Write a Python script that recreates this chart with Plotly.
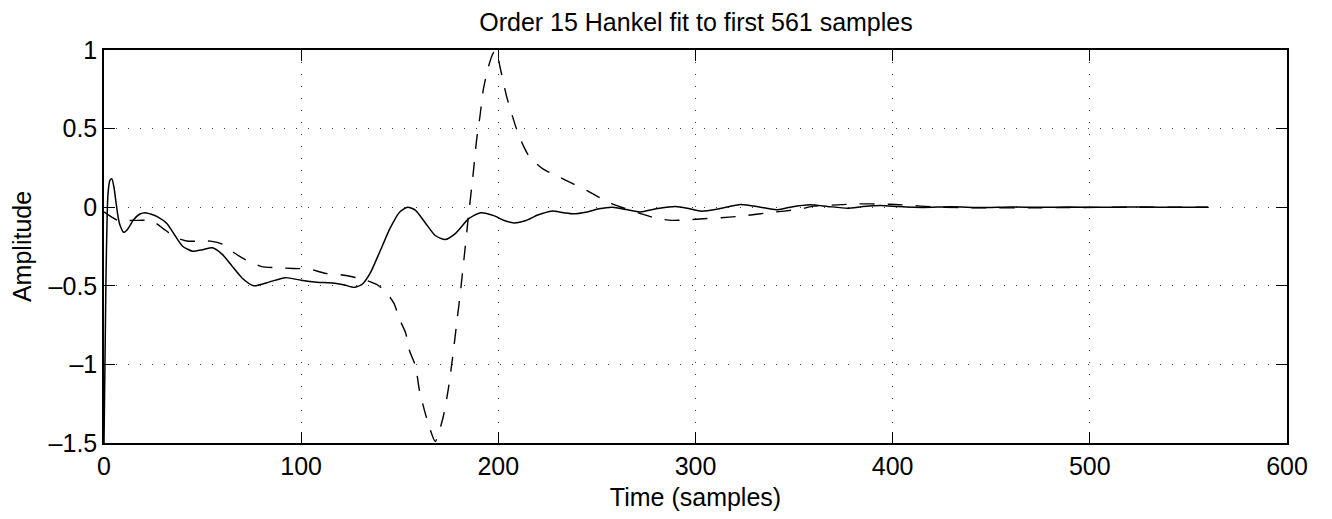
import plotly.graph_objects as go

# ---- data ----
solid_t = [0, 1, 2, 3, 4, 5, 6, 7, 8, 10, 12, 15, 18, 21, 24, 27, 32, 36, 40, 45, 50, 55,
           60, 65, 70, 76, 84, 92, 100, 108, 116, 122, 127, 131, 135, 140, 145, 150, 154,
           158, 163, 168, 173, 178, 185, 191, 198, 203, 208, 214, 220, 227, 233, 238, 245,
           251, 258, 265, 272, 280, 290, 297, 303, 312, 323, 333, 341, 348, 358, 367, 377,
           385, 394, 403, 415, 430, 445, 460, 475, 490, 505, 520, 535, 550, 560]
solid_v = [-1.5, -0.45, 0.08, 0.17, 0.18, 0.13, 0.04, -0.05, -0.11, -0.16, -0.14, -0.08,
           -0.045, -0.035, -0.045, -0.06, -0.105, -0.18, -0.25, -0.28, -0.27, -0.258,
           -0.30, -0.375, -0.45, -0.50, -0.475, -0.448, -0.465, -0.477, -0.482, -0.495,
           -0.51, -0.49, -0.42, -0.28, -0.136, -0.03, 0.0, -0.02, -0.10, -0.18, -0.206,
           -0.17, -0.073, -0.035, -0.055, -0.085, -0.10, -0.085, -0.05, -0.025, -0.035,
           -0.042, -0.03, -0.01, 0.0, -0.015, -0.03, -0.01, 0.005, -0.01, -0.025, -0.01,
           0.017, 0.0, -0.016, 0.0, 0.015, 0.005, -0.006, 0.004, 0.011, 0.004, -0.002,
           0.003, -0.002, 0.002, -0.001, 0.001, -0.001, 0.001, 0.0, 0.0, 0.0]

dashed_t = [0, 7, 15, 22, 26, 30, 36, 42, 48, 54, 60, 66, 72, 80, 88, 96, 104, 112, 120,
            128, 133, 138, 142, 147, 150, 153, 155, 158, 160, 164, 168, 172, 174.5, 176.8,
            178.8, 180.8, 182.6, 184.7, 187.3, 189, 190.7, 192.4, 195, 197.4, 199, 200.8,
            204.2, 209.3, 212.7, 216, 222.8, 229.6, 238, 245, 251.6, 259, 266, 272.5, 281,
            288, 297, 304, 313, 321, 329, 337, 345, 353, 360, 372, 382, 389, 398, 405, 414,
            425, 444, 470, 490, 520, 560]
dashed_v = [-0.03, -0.084, -0.084, -0.084, -0.10, -0.136, -0.19, -0.215, -0.216, -0.216,
            -0.235, -0.29, -0.336, -0.378, -0.385, -0.39, -0.393, -0.42, -0.43, -0.448,
            -0.465, -0.49, -0.526, -0.61, -0.715, -0.80, -0.915, -1.01, -1.167, -1.357,
            -1.49, -1.336, -1.167, -0.957, -0.747, -0.536, -0.326, -0.073, 0.22, 0.43, 0.58,
            0.75, 0.895, 0.98, 0.995, 0.895, 0.705, 0.495, 0.39, 0.316, 0.242, 0.20, 0.148,
            0.105, 0.06, 0.015, -0.015, -0.042, -0.073, -0.084, -0.08, -0.073, -0.067,
            -0.059, -0.048, -0.035, -0.025, -0.012, 0.007, 0.015, 0.021, 0.021, 0.019,
            0.015, 0.007, 0.0, -0.004, -0.004, -0.002, 0.0, 0.0]

x_ticks = [0, 100, 200, 300, 400, 500, 600]
x_ticktext = ["0", "100", "200", "300", "400", "500", "600"]
y_ticks = [-1.5, -1, -0.5, 0, 0.5, 1]
y_ticktext = ["\u20131.5", "\u20131", "\u20130.5", "0", "0.5", "1"]

title_text = "Order 15 Hankel fit to first 561 samples"
x_title = "Time (samples)"
y_title = "Amplitude"

FONT = "Liberation Sans, Arial, Helvetica, sans-serif"

fig = go.Figure()
fig.add_trace(go.Scatter(x=dashed_t, y=dashed_v, mode="lines",
                         line=dict(color="black", width=1.4, dash="15px,13px",
                                   shape="spline", smoothing=0.6),
                         showlegend=False, hoverinfo="skip"))
fig.add_trace(go.Scatter(x=solid_t, y=solid_v, mode="lines",
                         line=dict(color="black", width=1.5, shape="spline", smoothing=0.6),
                         showlegend=False, hoverinfo="skip"))

axis_common = dict(
    showline=True, linecolor="black", linewidth=1.5, mirror="allticks",
    ticks="inside", ticklen=11, tickwidth=1, tickcolor="black",
    showgrid=True, gridcolor="#444", gridwidth=1, griddash="1px,11px",
    zeroline=False, tickfont=dict(family=FONT, size=25, color="black"),
)

fig.update_xaxes(range=[0, 600], tickvals=x_ticks, ticktext=x_ticktext,
                 title=dict(text=x_title, font=dict(family=FONT, size=25, color="black"),
                            standoff=10),
                 **axis_common)
fig.update_yaxes(range=[-1.5, 1], tickvals=y_ticks, ticktext=y_ticktext,
                 title=dict(text=y_title, font=dict(family=FONT, size=25, color="black"),
                            standoff=10),
                 **axis_common)

fig.update_layout(
    width=1332, height=519,
    margin=dict(l=104, r=45, t=50, b=73, pad=0),
    paper_bgcolor="white", plot_bgcolor="white",
    title=dict(text=title_text, x=0.5225, xanchor="center", y=1 - 22 / 519,
               yanchor="middle", yref="container",
               font=dict(family=FONT, size=25, color="black")),
)

fig.write_html("out.html")
